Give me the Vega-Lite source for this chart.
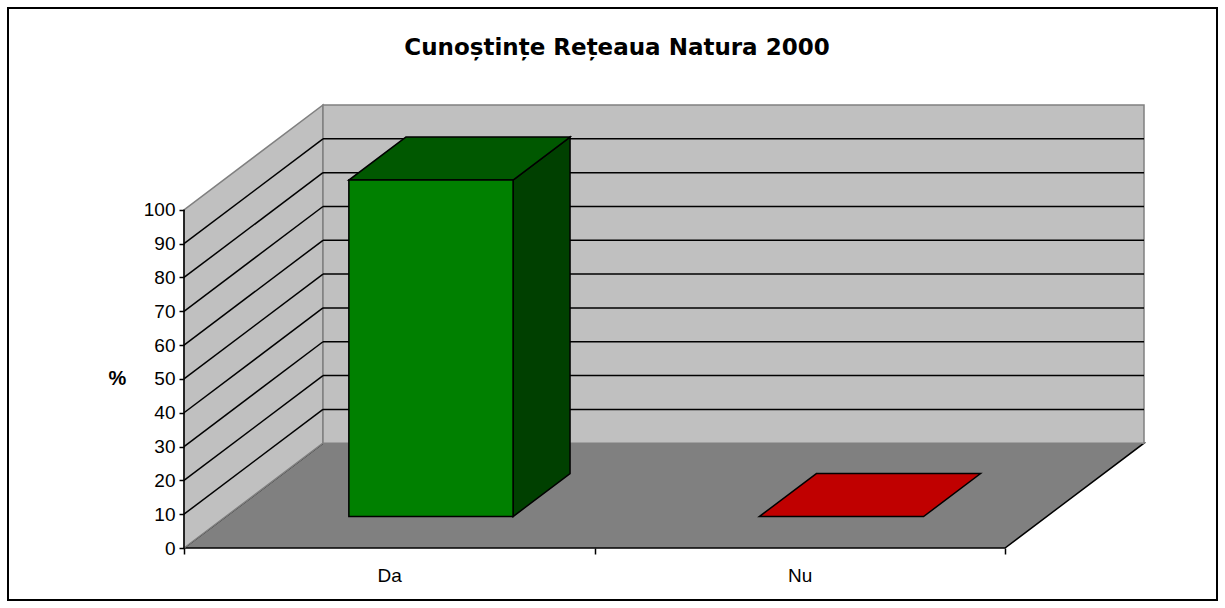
{
  "$schema": "https://vega.github.io/schema/vega-lite/v6.json",
  "width": 960,
  "height": 443,
  "autosize": "none",
  "padding": {"left": 184, "top": 105, "right": 81, "bottom": 60},
  "background": "white",
  "config": {"view": {"stroke": null}, "font": "Liberation Sans"},
  "title": {
    "text": "Cunoștințe Rețeaua Natura 2000",
    "font": "DejaVu Sans",
    "fontWeight": "bold",
    "fontSize": 23,
    "color": "black",
    "anchor": "middle",
    "frame": "group",
    "baseline": "alphabetic",
    "offset": -71,
    "dx": -47
  },
  "datasets": {
    "floor": [
      {"py": 0, "left": 0, "right": 2},
      {"py": 31, "left": 0.3386, "right": 2.3386}
    ],
    "leftwall": [
      {"px": 0, "lo": 0, "hi": 100},
      {"px": 0.3386, "lo": 31, "hi": 131}
    ],
    "grid": [
      {"v": 10}, {"v": 20}, {"v": 30}, {"v": 40}, {"v": 50},
      {"v": 60}, {"v": 70}, {"v": 80}, {"v": 90}
    ],
    "da_front": [
      {"category": "Da", "x0": 0.4016, "x1": 0.8016, "base": 9.3, "top": 108.8}
    ],
    "da_side": [
      {"px": 0.8016, "lo": 9.3, "hi": 108.8},
      {"px": 0.9404, "lo": 22.01, "hi": 121.51}
    ],
    "da_top": [
      {"py": 108.8, "left": 0.4016, "right": 0.8016},
      {"py": 121.51, "left": 0.5404, "right": 0.9404}
    ],
    "nu_top": [
      {"py": 9.3, "left": 1.4016, "right": 1.8016},
      {"py": 22.01, "left": 1.5404, "right": 1.9404}
    ]
  },
  "layer": [
    {
      "data": {"values": [{}]},
      "mark": {"type": "rect", "fill": "white", "fillOpacity": 0, "stroke": "black", "strokeWidth": 2,
               "xOffset": -176, "x2Offset": 73, "yOffset": -97, "y2Offset": 52},
      "encoding": {
        "x": {
          "datum": 0, "type": "quantitative",
          "scale": {"domain": [0, 2.3386], "nice": false, "zero": false},
          "axis": {
            "values": [0, 0.5, 1, 1.5, 2],
            "labelExpr": "datum.value == 0.5 ? 'Da' : datum.value == 1.5 ? 'Nu' : ''",
            "domain": false, "grid": false, "zindex": 1,
            "tickSize": 6, "tickColor": "black", "tickWidth": 1.5,
            "tickOpacity": {"condition": {"test": "datum.value == 0.5 || datum.value == 1.5", "value": 0}, "value": 1},
            "labelFont": "Liberation Sans", "labelFontSize": 19, "labelColor": "black",
            "labelPadding": 12, "labelOverlap": false, "labelFlush": false, "labelBound": false,
            "labelDx": 4,
            "title": null
          }
        },
        "x2": {"datum": 2.3386},
        "y": {
          "datum": 131, "type": "quantitative",
          "scale": {"domain": [0, 131], "nice": false, "zero": false},
          "axis": {
            "values": [0, 10, 20, 30, 40, 50, 60, 70, 80, 90, 100],
            "domain": false, "grid": false, "zindex": 1,
            "tickSize": 5, "tickColor": "black", "tickWidth": 1.5,
            "labelFont": "Liberation Sans", "labelFontSize": 19, "labelColor": "black",
            "labelPadding": 4, "labelOverlap": false,
            "title": "%", "titleFont": "Liberation Sans", "titleFontWeight": "bold",
            "titleFontSize": 20, "titleColor": "black", "titleAngle": 0,
            "titleX": -67, "titleY": 273, "titleAlign": "center", "titleBaseline": "middle"
          }
        },
        "y2": {"datum": 0}
      }
    },
    {
      "data": {"name": "floor"},
      "mark": {"type": "area", "orient": "horizontal", "fill": "#808080", "stroke": "black", "strokeWidth": 1.5},
      "encoding": {
        "y": {"field": "py", "type": "quantitative"},
        "x": {"field": "left", "type": "quantitative"},
        "x2": {"field": "right"}
      }
    },
    {
      "data": {"name": "leftwall"},
      "mark": {"type": "area", "orient": "vertical", "fill": "#C0C0C0", "stroke": "#808080", "strokeWidth": 1.5},
      "encoding": {
        "x": {"field": "px", "type": "quantitative"},
        "y": {"field": "lo", "type": "quantitative"},
        "y2": {"field": "hi"}
      }
    },
    {
      "data": {"values": [{}]},
      "mark": {"type": "rect", "fill": "#C0C0C0", "stroke": "#808080", "strokeWidth": 1.5},
      "encoding": {
        "x": {"datum": 0.3386, "type": "quantitative"},
        "x2": {"datum": 2.3386},
        "y": {"datum": 31, "type": "quantitative"},
        "y2": {"datum": 131}
      }
    },
    {
      "data": {"name": "grid"},
      "mark": {"type": "rule", "color": "black", "strokeWidth": 1.5, "yOffset": -104.8},
      "encoding": {
        "x": {"datum": 0.3386, "type": "quantitative"},
        "x2": {"datum": 2.3386},
        "y": {"field": "v", "type": "quantitative"}
      }
    },
    {
      "data": {"name": "grid"},
      "mark": {"type": "rule", "color": "black", "strokeWidth": 1.5, "y2Offset": -104.8},
      "encoding": {
        "x": {"datum": 0, "type": "quantitative"},
        "x2": {"datum": 0.3386},
        "y": {"field": "v", "type": "quantitative"},
        "y2": {"field": "v"}
      }
    },
    {
      "data": {"values": [{}]},
      "mark": {"type": "rule", "color": "black", "strokeWidth": 1.5},
      "encoding": {
        "x": {"datum": 0, "type": "quantitative"},
        "y": {"datum": 0, "type": "quantitative"},
        "y2": {"datum": 100}
      }
    },
    {
      "data": {"name": "nu_top"},
      "mark": {"type": "area", "orient": "horizontal", "fill": "#C00000", "stroke": "black", "strokeWidth": 1.5},
      "encoding": {
        "y": {"field": "py", "type": "quantitative"},
        "x": {"field": "left", "type": "quantitative"},
        "x2": {"field": "right"}
      }
    },
    {
      "data": {"name": "da_side"},
      "mark": {"type": "area", "orient": "vertical", "fill": "#004000", "stroke": "black", "strokeWidth": 1.5},
      "encoding": {
        "x": {"field": "px", "type": "quantitative"},
        "y": {"field": "lo", "type": "quantitative"},
        "y2": {"field": "hi"}
      }
    },
    {
      "data": {"name": "da_top"},
      "mark": {"type": "area", "orient": "horizontal", "fill": "#005800", "stroke": "black", "strokeWidth": 1.5},
      "encoding": {
        "y": {"field": "py", "type": "quantitative"},
        "x": {"field": "left", "type": "quantitative"},
        "x2": {"field": "right"}
      }
    },
    {
      "data": {"name": "da_front"},
      "mark": {"type": "rect", "fill": "#008000", "stroke": "black", "strokeWidth": 1.5},
      "encoding": {
        "x": {"field": "x0", "type": "quantitative"},
        "x2": {"field": "x1"},
        "y": {"field": "base", "type": "quantitative"},
        "y2": {"field": "top"}
      }
    }
  ]
}
